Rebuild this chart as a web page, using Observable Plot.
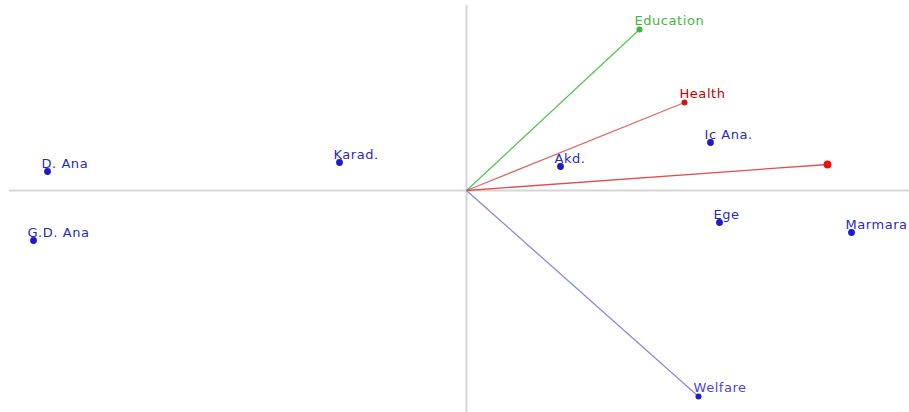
<!DOCTYPE html>
<html>
<head>
<meta charset="utf-8">
<script src="https://cdn.jsdelivr.net/npm/d3@7"></script>
<script src="https://cdn.jsdelivr.net/npm/@observablehq/plot@0.6"></script>
<style>
  html, body { margin: 0; padding: 0; background: #fff; }
  svg { display: block; }
  svg text { letter-spacing: 0.55px; }
</style>
</head>
<body>
<div id="chart"></div>
<script>
// Observation scores (regions)
const regionNames = ["D. Ana", "G.D. Ana", "Karad.", "Akd.", "Ic Ana.", "Ege", "Marmara"];
const regionX = [-4.19, -4.33, -1.27, 0.94, 2.44, 2.53, 3.85];
const regionY = [0.19, -0.50, 0.28, 0.24, 0.48, -0.32, -0.42];

// Variable loadings (vectors)
const varNames = ["Education", "Health", "Welfare", ""];
const varX = [1.73, 2.18, 2.32, 3.61];
const varY = [1.61, 0.88, -2.06, 0.26];
const varLine = ["#55c455", "#e06a6a", "#8a8ae0", "#e05050"];
const varDot = ["#3cb83c", "#c81818", "#2020c8", "#ee1010"];
const varText = ["#3cb83c", "#c00000", "#4848d8", "#c00000"];
const varR = [3.2, 3.2, 3.2, 5.5];

const regions = regionNames.map((name, i) => ({name, x: regionX[i], y: regionY[i]}));
const vars = varNames.map((name, i) => ({
  name, x: varX[i], y: varY[i], line: varLine[i], dot: varDot[i], text: varText[i], r: varR[i]
}));

const chart = Plot.plot({
  width: 909,
  height: 412,
  margin: 0,
  x: {domain: [-4.66, 4.43], axis: null},
  y: {domain: [-2.22, 1.90], axis: null},
  style: {fontFamily: "DejaVu Sans, Verdana, sans-serif", background: "#fff"},
  marks: [
    Plot.ruleY([0], {x1: -4.57, x2: 4.43, stroke: "#d6d6d6", strokeWidth: 2}),
    Plot.ruleX([0], {y1: -2.22, y2: 1.85, stroke: "#d6d6d6", strokeWidth: 2}),
    Plot.link(vars, {x1: 0, y1: 0, x2: "x", y2: "y", stroke: d => d.line, strokeWidth: 1.3}),
    Plot.dot(vars, {x: "x", y: "y", r: d => d.r, fill: d => d.dot, stroke: "none"}),
    Plot.text(vars, {x: "x", y: "y", text: "name", fill: d => d.text, textAnchor: "start", dx: -5, dy: -9, fontSize: 13}),
    Plot.dot(regions, {x: "x", y: "y", r: 3.4, fill: "#1a1ad0", stroke: "none"}),
    Plot.text(regions, {x: "x", y: "y", text: "name", fill: "#2a2ab8", textAnchor: "start", dx: -6, dy: -8, fontSize: 13})
  ]
});
document.getElementById("chart").append(chart);
</script>
</body>
</html>
